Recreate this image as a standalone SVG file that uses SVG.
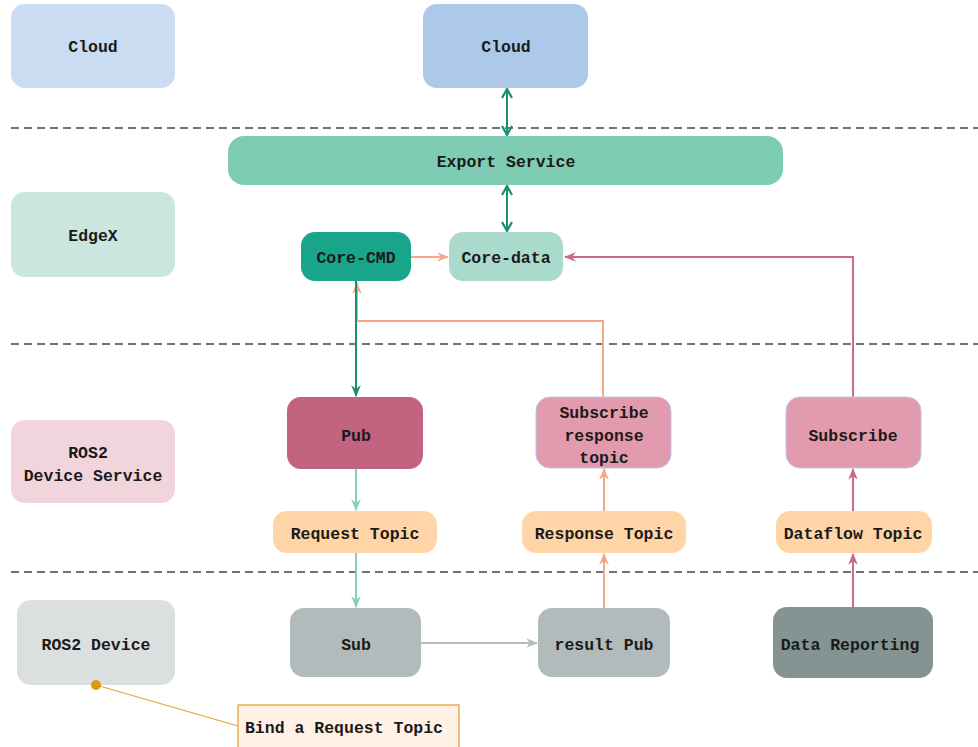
<svg xmlns="http://www.w3.org/2000/svg" width="978" height="747" viewBox="0 0 978 747">
<defs>
<style>
text{font-family:"Liberation Mono","DejaVu Sans Mono",monospace;font-size:16.5px;font-weight:bold;fill:#1a1a1a;text-anchor:middle;dominant-baseline:central}
.sep{stroke:#444;stroke-width:1.3;stroke-dasharray:8 5;fill:none}
.c{fill:none;stroke-width:2}
</style>
<marker id="chev" viewBox="0 0 12 12" refX="11" refY="6" markerWidth="12" markerHeight="12" orient="auto-start-reverse" markerUnits="userSpaceOnUse"><path d="M2,1 L11,6 L2,11" fill="none" stroke="#1a8f72" stroke-width="2.2"/></marker>
<marker id="aGreen" viewBox="0 0 10 10" refX="9" refY="5" markerWidth="12" markerHeight="12" orient="auto" markerUnits="userSpaceOnUse"><path d="M0,1 L10,5 L0,9 L3,5 Z" fill="#1a8f72"/></marker>
<marker id="aOrange" viewBox="0 0 10 10" refX="9" refY="5" markerWidth="12" markerHeight="12" orient="auto" markerUnits="userSpaceOnUse"><path d="M0,1 L10,5 L0,9 L3,5 Z" fill="#f5a886"/></marker>
<marker id="aPink" viewBox="0 0 10 10" refX="9" refY="5" markerWidth="12" markerHeight="12" orient="auto" markerUnits="userSpaceOnUse"><path d="M0,1 L10,5 L0,9 L3,5 Z" fill="#c96b8d"/></marker>
<marker id="aLight" viewBox="0 0 10 10" refX="9" refY="5" markerWidth="12" markerHeight="12" orient="auto" markerUnits="userSpaceOnUse"><path d="M0,1 L10,5 L0,9 L3,5 Z" fill="#86d0b8"/></marker>
<marker id="aGray" viewBox="0 0 10 10" refX="9" refY="5" markerWidth="12" markerHeight="12" orient="auto" markerUnits="userSpaceOnUse"><path d="M0,1 L10,5 L0,9 L3,5 Z" fill="#b2bfbf"/></marker>
</defs>
<rect width="978" height="747" fill="#fff"/>

<g id="separators">
<line class="sep" x1="11" y1="128" x2="978" y2="128"/>
<line class="sep" x1="11" y1="344" x2="978" y2="344"/>
<line class="sep" x1="11" y1="572" x2="978" y2="572"/>
</g>

<g id="connectors">
<line class="c" x1="507" y1="89" x2="507" y2="135" stroke="#1a8f72" marker-start="url(#chev)" marker-end="url(#chev)"/>
<line class="c" x1="507" y1="186" x2="507" y2="231" stroke="#1a8f72" marker-start="url(#chev)" marker-end="url(#chev)"/>
<line class="c" x1="411" y1="257" x2="448" y2="257" stroke="#f5a886" marker-end="url(#aOrange)"/>
<polyline class="c" points="853,397 853,257 565,257" stroke="#c96b8d" marker-end="url(#aPink)"/>
<polyline class="c" points="603,397 603,321 357,321 357,283" stroke="#f5a886" marker-end="url(#aOrange)"/>
<line class="c" x1="356" y1="281" x2="356" y2="396" stroke="#1a8f72" marker-end="url(#aGreen)"/>
<line class="c" x1="356" y1="469" x2="356" y2="510" stroke="#86d0b8" marker-end="url(#aLight)"/>
<line class="c" x1="356" y1="553" x2="356" y2="607" stroke="#86d0b8" marker-end="url(#aLight)"/>
<line class="c" x1="421" y1="643" x2="537" y2="643" stroke="#b2bfbf" marker-end="url(#aGray)"/>
<line class="c" x1="604" y1="608" x2="604" y2="554" stroke="#f5a886" marker-end="url(#aOrange)"/>
<line class="c" x1="604" y1="511" x2="604" y2="469" stroke="#f5a886" marker-end="url(#aOrange)"/>
<line class="c" x1="853" y1="607" x2="853" y2="554" stroke="#c96b8d" marker-end="url(#aPink)"/>
<line class="c" x1="853" y1="511" x2="853" y2="469" stroke="#c96b8d" marker-end="url(#aPink)"/>
</g>

<g id="lane-cloud"><rect x="11" y="4" width="164" height="84" rx="14" fill="#cadcf1"/><text x="93" y="47">Cloud</text></g>
<g id="cloud"><rect x="423" y="4" width="165" height="84" rx="14" fill="#adc9e9"/><text x="506" y="47">Cloud</text></g>
<g id="export-service"><rect x="228" y="136" width="555" height="49" rx="16" fill="#7fccb4"/><text x="506" y="162">Export Service</text></g>
<g id="lane-edgex"><rect x="11" y="192" width="164" height="85" rx="14" fill="#cbe6de"/><text x="93" y="236">EdgeX</text></g>
<g id="core-cmd"><rect x="301" y="232" width="110" height="49" rx="14" fill="#18a589"/><text x="356" y="258">Core-CMD</text></g>
<g id="core-data"><rect x="449" y="232" width="114" height="49" rx="14" fill="#aadacc"/><text x="506" y="258">Core-data</text></g>
<g id="lane-ros2-ds"><rect x="11" y="420" width="164" height="83" rx="14" fill="#f2d4dc"/><text x="88" y="453">ROS2</text><text x="93" y="476">Device Service</text></g>
<g id="pub"><rect x="287" y="397" width="136" height="72" rx="14" fill="#c26380"/><text x="356" y="436">Pub</text></g>
<g id="subscribe-response"><rect x="536" y="397" width="135" height="71" rx="14" fill="#e29aae" stroke="#b9c8ea" stroke-width="1"/><text x="604" y="413">Subscribe</text><text x="604" y="436">response</text><text x="604" y="458">topic</text></g>
<g id="subscribe"><rect x="786" y="397" width="135" height="71" rx="14" fill="#e29aae" stroke="#b9c8ea" stroke-width="1"/><text x="853" y="436">Subscribe</text></g>
<g id="request-topic"><rect x="273" y="511" width="164" height="42" rx="14" fill="#ffd5a8"/><text x="355" y="534">Request Topic</text></g>
<g id="response-topic"><rect x="522" y="511" width="164" height="42" rx="14" fill="#ffd5a8"/><text x="604" y="534">Response Topic</text></g>
<g id="dataflow-topic"><rect x="776" y="511" width="156" height="42" rx="14" fill="#ffd5a8"/><text x="853" y="534">Dataflow Topic</text></g>
<g id="lane-ros2-device"><rect x="17" y="600" width="158" height="85" rx="14" fill="#dcdfe0"/><text x="96" y="645">ROS2 Device</text></g>
<g id="sub"><rect x="290" y="608" width="131" height="69" rx="14" fill="#b2bbbb"/><text x="356" y="645">Sub</text></g>
<g id="result-pub"><rect x="538" y="608" width="132" height="69" rx="14" fill="#b2bbbb"/><text x="604" y="645">result Pub</text></g>
<g id="data-reporting"><rect x="773" y="607" width="160" height="71" rx="14" fill="#859392"/><text x="850" y="645">Data Reporting</text></g>
<g id="note-link">
<line x1="96" y1="685" x2="238" y2="726" stroke="#e8a23a" stroke-width="1.3"/>
<circle cx="96" cy="685" r="5" fill="#e0960f"/>
</g>
<g id="note"><rect x="238" y="705" width="221" height="50" fill="#fff1e5" stroke="#e8a23a" stroke-width="1.3"/><text x="344" y="728">Bind a Request Topic</text></g>
</svg>
